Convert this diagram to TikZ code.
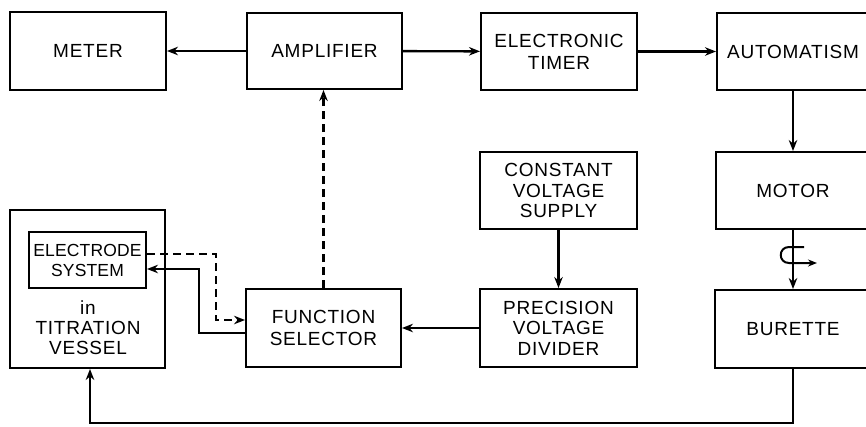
\documentclass[tikz,border=0pt]{standalone}
\usepackage{fontspec}
\setmainfont{Liberation Sans}[LetterSpace=4]
\usetikzlibrary{arrows.meta,calc}
\begin{document}
\begin{tikzpicture}[x=1pt,y=-1pt,
  box/.style={draw,line width=2pt,align=center,inner sep=0pt,
    font=\fontsize{19}{22}\selectfont},
  arr/.style={line width=2.4pt,-{Stealth[length=11pt,width=8.5pt]}},
  dsh/.style={dash pattern=on 8pt off 5pt}]
\useasboundingbox (0,0) rectangle (866,426);
\clip (0,0) rectangle (866,426);
% boxes
\node[box,minimum width=156pt,minimum height=78pt] (meter) at (88,51) {METER};
\node[box,minimum width=155pt,minimum height=76pt] (amp) at (324.5,51) {AMPLIFIER};
\node[box,minimum width=156pt,minimum height=77pt] (timer) at (559,51.5) {ELECTRONIC\\TIMER};
\node[box,minimum width=152pt,minimum height=77pt] (autom) at (793,51.5) {AUTOMATISM};
\node[box,minimum width=154pt,minimum height=77pt] (motor) at (793,190.5) {MOTOR};
\node[box,minimum width=156pt,minimum height=78pt] (bur) at (793,329) {BURETTE};
\node[box,minimum width=157pt,minimum height=77pt,font=\fontsize{19}{20.5}\selectfont] (cvs) at (558.5,190.5) {CONSTANT\\VOLTAGE\\SUPPLY};
\node[box,minimum width=157pt,minimum height=78pt,font=\fontsize{19}{20.5}\selectfont] (pvd) at (558.5,328) {PRECISION\\VOLTAGE\\DIVIDER};
\node[box,minimum width=155pt,minimum height=78pt] (fs) at (323.5,328) {FUNCTION\\SELECTOR};
\node[box,minimum width=155pt,minimum height=158pt] (vessel) at (87.5,289) {};
\node[box,minimum width=117pt,minimum height=56pt,font=\fontsize{17.5}{20}\selectfont\addfontfeatures{LetterSpace=1}] (elec) at (87.5,260) {ELECTRODE\\SYSTEM};
\node[align=center,inner sep=0pt,font=\fontsize{19}{20}\selectfont] (vtext) at (88,328) {in\\TITRATION\\VESSEL};
% connectors
\draw[arr] (amp) -- (meter);
\draw[arr] (amp) -- (timer);
\draw[arr] (timer) -- (autom);
\draw[arr] (autom) -- (motor);
\draw[arr] (motor) -- (bur);
\draw[arr] (cvs) -- (pvd);
\draw[arr] (pvd) -- (fs);
\draw[arr,dsh] (fs.north) -- (fs.north |- amp.south);
\draw[arr,dsh] ([yshift=6pt]elec.east) -- ++(69,0) |- ([yshift=8pt]fs.west);
\draw[arr] ([yshift=-5pt]fs.west) -- ++(-46,0) |- ([yshift=-9pt]elec.east);
\coordinate (rb) at ($(bur.south)+(0,54)$);
\draw[arr] (bur.south) -- (rb) -| ([xshift=2.5pt]vessel.south);
% rotation symbol
\coordinate (sh) at ($(motor.south)+(0,17)$);
\draw[line width=2pt,-{Stealth[length=9pt,width=7pt]}] ($(sh)+(11,0)$) -- ($(sh)+(-4,0)$)
  .. controls ($(sh)+(-15,0)$) and ($(sh)+(-15,16)$) .. ($(sh)+(-4,16)$) -- ($(sh)+(24,16)$);
\end{tikzpicture}
\end{document}
